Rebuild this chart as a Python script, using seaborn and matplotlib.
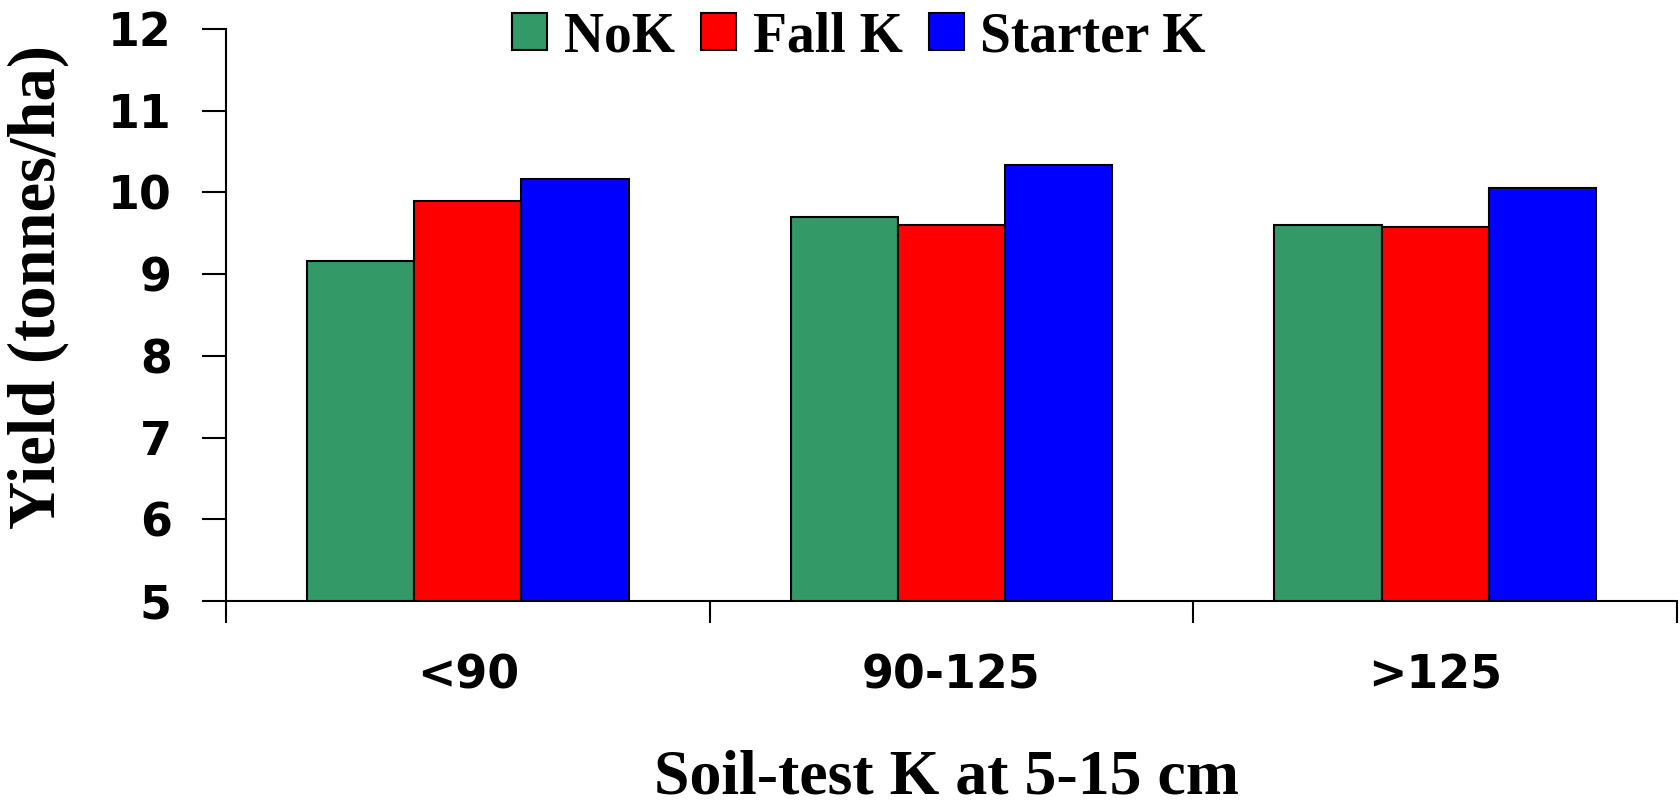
import matplotlib
matplotlib.use("Agg")
import matplotlib.pyplot as plt
import seaborn as sns
import pandas as pd

categories = ["<90", "90-125", ">125"]
treatments = ["NoK", "Fall K", "Starter K"]
nok = [9.16, 9.70, 9.60]
fall_k = [9.90, 9.60, 9.58]
starter_k = [10.17, 10.34, 10.05]
colors = ["#339966", "#FF0000", "#0000FF"]
y_ticks = [5, 6, 7, 8, 9, 10, 11, 12]

rows = []
for name, vals in zip(treatments, [nok, fall_k, starter_k]):
    for c, v in zip(categories, vals):
        rows.append({"cat": c, "trt": name, "val": v})
df = pd.DataFrame(rows)

sns.set_theme(style="white")
plt.rcParams["font.family"] = ["DejaVu Sans"]
plt.rcParams["text.color"] = "black"
plt.rcParams["xtick.color"] = "black"
plt.rcParams["ytick.color"] = "black"
plt.rcParams["axes.labelcolor"] = "black"

fig = plt.figure(figsize=(16.8, 8.05), dpi=100)
ax = fig.add_axes([226 / 1680, 1 - 601 / 805, (1677 - 226) / 1680, (601 - 29) / 805])

sns.barplot(data=df, x="cat", y="val", hue="trt", order=categories,
            hue_order=treatments, palette=colors, width=0.665, gap=0,
            edgecolor="black", linewidth=1.5, saturation=1, ax=ax,
            legend=True)

ax.set_ylim(5, 12)
ax.set_xlim(-0.5, 2.5)
ax.set_yticks(y_ticks)
ax.set_yticklabels([str(t) for t in y_ticks], fontsize=33, fontweight="bold",
                   family="DejaVu Sans", color="black")
ax.tick_params(axis="y", direction="out", length=17, width=1.5, pad=22,
               left=True, colors="black")

# category boundary ticks (major) and labels (minor)
ax.set_xticks([-0.5, 0.5, 1.5, 2.5])
ax.set_xticklabels([])
ax.set_xticks([0, 1, 2], minor=True)
ax.set_xticklabels(categories, minor=True, fontsize=33, fontweight="bold",
                   family="DejaVu Sans", color="black")
ax.tick_params(axis="x", which="major", direction="out", length=16, width=1.5,
               bottom=True, colors="black")
ax.tick_params(axis="x", which="minor", length=0, pad=38, colors="black")

for s in ["top", "right"]:
    ax.spines[s].set_visible(False)
for s in ["left", "bottom"]:
    ax.spines[s].set_color("black")
    ax.spines[s].set_linewidth(1.5)

ax.set_xlabel("")
ax.set_ylabel("")
fig.text(946 / 1680, 1 - 778 / 805, "Soil-test K at 5-15 cm", ha="center",
         va="center", fontsize=46, fontweight="bold", family="Liberation Serif",
         color="black")
fig.text(38 / 1680, 1 - 287 / 805, "Yield (tonnes/ha)", ha="center",
         va="center", rotation=90, fontsize=48, fontweight="bold",
         family="Liberation Serif", color="black")

handles, labels = ax.get_legend_handles_labels()
ax.get_legend().remove()
fig.legend(handles, labels, loc="center", bbox_to_anchor=(859 / 1680, 1 - 37 / 805),
           ncol=3, frameon=False, handlelength=0.63, handleheight=0.63,
           handletextpad=0.3, columnspacing=0.47, borderpad=0, borderaxespad=0,
           labelcolor="black",
           prop={"family": "Liberation Serif", "weight": "bold", "size": 40})

fig.savefig("out.png", dpi=100, facecolor="white")
